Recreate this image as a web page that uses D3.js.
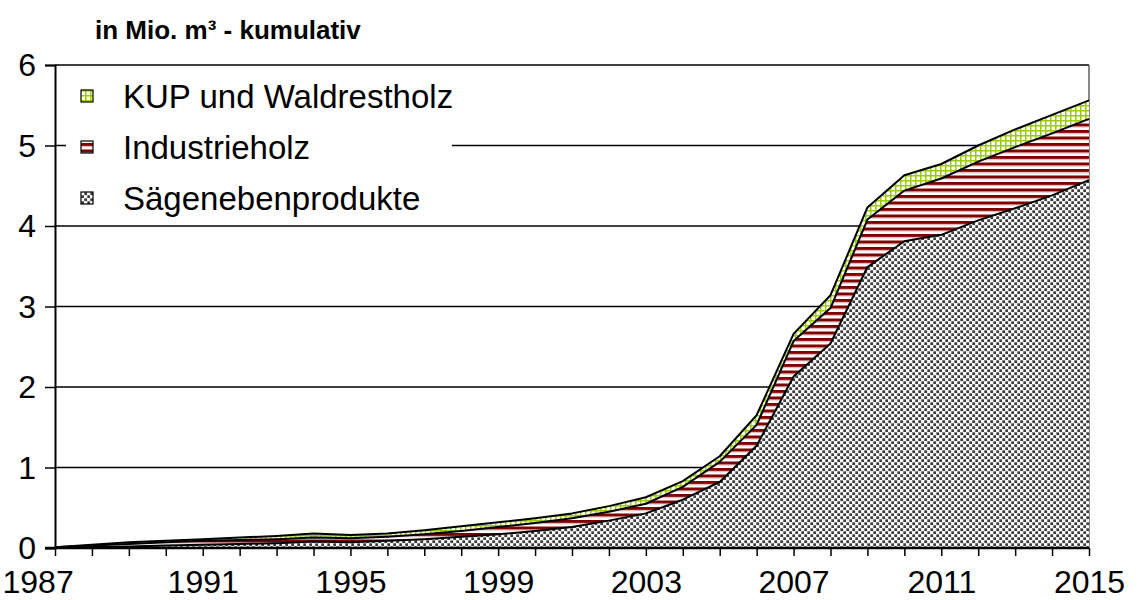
<!DOCTYPE html>
<html>
<head>
<meta charset="utf-8">
<script src="https://cdn.jsdelivr.net/npm/d3@7"></script>
<style>
  html, body { margin: 0; padding: 0; background: #fff; }
  svg { display: block; font-family: "Liberation Sans", Arial, sans-serif; }
</style>
</head>
<body>
<svg id="chart" width="1138" height="600"></svg>
<script>
// Jahre
const years = [1987,1988,1989,1990,1991,1992,1993,1994,1995,1996,1997,1998,1999,2000,
               2001,2002,2003,2004,2005,2006,2007,2008,2009,2010,2011,2012,2013,2014,2015];

// kumulierte Kapazitäten je Rohstoff (Mio. m³)
const saegenebenprodukte = [0.00,0.01,0.02,0.03,0.04,0.05,0.06,0.08,0.07,0.09,0.11,0.14,0.17,0.21,
                            0.26,0.34,0.43,0.60,0.82,1.27,2.13,2.54,3.49,3.81,3.89,4.07,4.22,4.38,4.57];
const industrieholz      = [0.01,0.02,0.03,0.04,0.05,0.05,0.05,0.05,0.05,0.05,0.06,0.07,0.09,0.10,
                            0.11,0.11,0.12,0.16,0.25,0.26,0.44,0.44,0.59,0.63,0.70,0.73,0.76,0.77,0.76];
const kupWaldrestholz    = [0.00,0.01,0.02,0.02,0.02,0.03,0.04,0.05,0.04,0.04,0.05,0.06,0.06,0.06,
                            0.06,0.07,0.08,0.07,0.07,0.12,0.09,0.16,0.15,0.19,0.18,0.20,0.22,0.23,0.23];

const seriesNames = ["Sägenebenprodukte", "Industrieholz", "KUP und Waldrestholz"];
const yTicks = [0,1,2,3,4,5,6];
const xLabelYears = [1987,1991,1995,1999,2003,2007,2011,2015];
const title = "in Mio. m³ - kumulativ";

const rows = years.map((y, i) => ({
  year: y,
  "Sägenebenprodukte": saegenebenprodukte[i],
  "Industrieholz": industrieholz[i],
  "KUP und Waldrestholz": kupWaldrestholz[i]
}));

const svg = d3.select("#chart");
const L = 55, R = 1089, T = 65, B = 548;

const x = d3.scaleLinear().domain([1987, 2015]).range([L, R]);
const y = d3.scaleLinear().domain([0, 6]).range([B, T]);

// Füllmuster
const defs = svg.append("defs");

const pDots = defs.append("pattern").attr("id", "pDots")
  .attr("patternUnits", "userSpaceOnUse").attr("width", 6).attr("height", 6);
pDots.append("rect").attr("width", 6).attr("height", 6).attr("fill", "#fff");
pDots.append("rect").attr("x", 0.3).attr("y", 0.3).attr("width", 2.8).attr("height", 2.8).attr("fill", "#3c3c3c");
pDots.append("rect").attr("x", 3.3).attr("y", 3.3).attr("width", 2.8).attr("height", 2.8).attr("fill", "#3c3c3c");

const pStripes = defs.append("pattern").attr("id", "pStripes")
  .attr("patternUnits", "userSpaceOnUse").attr("width", 6).attr("height", 6.5);
pStripes.append("rect").attr("width", 6).attr("height", 6.5).attr("fill", "#fff");
pStripes.append("rect").attr("y", 0).attr("width", 6).attr("height", 3).attr("fill", "#800000");
pStripes.append("rect").attr("y", 3).attr("width", 6).attr("height", 1).attr("fill", "#d7a6a6");

const pGrid = defs.append("pattern").attr("id", "pGrid")
  .attr("patternUnits", "userSpaceOnUse").attr("width", 5).attr("height", 5);
pGrid.append("rect").attr("width", 5).attr("height", 5).attr("fill", "#fff");
pGrid.append("rect").attr("x", 0).attr("y", 0).attr("width", 1.5).attr("height", 5).attr("fill", "#99cc00");
pGrid.append("rect").attr("x", 0).attr("y", 0).attr("width", 5).attr("height", 1.5).attr("fill", "#99cc00");

const fills = {
  "Sägenebenprodukte": "url(#pDots)",
  "Industrieholz": "url(#pStripes)",
  "KUP und Waldrestholz": "url(#pGrid)"
};

// Gitterlinien
svg.append("g").selectAll("line").data(yTicks.filter(d => d > 0)).join("line")
  .attr("x1", L).attr("x2", R)
  .attr("y1", d => y(d)).attr("y2", d => y(d))
  .attr("stroke", "#000").attr("stroke-width", 1.4);

// rechter Rand des Diagrammbereichs
svg.append("line").attr("x1", R).attr("x2", R).attr("y1", T).attr("y2", B)
  .attr("stroke", "#555").attr("stroke-width", 1.4);

// Legendenhintergrund
svg.append("rect").attr("x", 66).attr("y", 72).attr("width", 386).attr("height", 146).attr("fill", "#fff");

// gestapelte Flächen
const stack = d3.stack().keys(seriesNames);
const layers = stack(rows);

const area = d3.area()
  .x(d => x(d.data.year))
  .y0(d => y(d[0]))
  .y1(d => y(d[1]));

const topLine = d3.line()
  .x(d => x(d.data.year))
  .y(d => y(d[1]));

svg.append("g").selectAll("path").data(layers).join("path")
  .attr("d", area)
  .attr("fill", d => fills[d.key]);

svg.append("g").selectAll("path").data(layers).join("path")
  .attr("d", topLine)
  .attr("fill", "none")
  .attr("stroke", "#000")
  .attr("stroke-width", 2)
  .attr("stroke-linejoin", "round");

// Achsen
const yAxis = d3.axisLeft(y).tickValues(yTicks).tickSize(10).tickFormat(d3.format("d"));
const gy = svg.append("g").attr("transform", `translate(${L},0)`).call(yAxis);
gy.select(".domain").attr("stroke", "#000").attr("stroke-width", 2);
gy.selectAll(".tick line").attr("stroke", "#000").attr("stroke-width", 1.5);
gy.selectAll(".tick text").attr("font-size", 32).attr("fill", "#000").attr("x", -19).attr("dy", "0.34em")
  .attr("font-family", "Liberation Sans, Arial, sans-serif");

const xAxis = d3.axisBottom(x).tickValues(years).tickSize(8)
  .tickFormat(d => xLabelYears.includes(d) ? String(d) : "");
const gx = svg.append("g").attr("transform", `translate(0,${B})`).call(xAxis);
gx.select(".domain").attr("d", `M${L - 10},0H${R}`).attr("stroke", "#000").attr("stroke-width", 2.5);
gx.selectAll(".tick line").attr("stroke", "#000").attr("stroke-width", 1.5);
gx.selectAll(".tick text").attr("font-size", 32).attr("fill", "#000").attr("y", 22)
  .attr("font-family", "Liberation Sans, Arial, sans-serif");
// erste Jahresbeschriftung linksbündig an den Rand gerückt
gx.selectAll(".tick text").filter(d => d === years[0])
  .attr("text-anchor", "start").attr("x", 2 - L);

// Titel
svg.append("text").attr("x", 95).attr("y", 39)
  .attr("font-size", 26).attr("font-weight", "bold").attr("fill", "#000")
  .text(title);

// Legende (oberste Reihe zuerst)
const legendItems = seriesNames.slice().reverse();
const lg = svg.append("g");
legendItems.forEach((name, i) => {
  const cy = 96 + i * 51;
  lg.append("rect").attr("x", 81).attr("y", cy - 6).attr("width", 12).attr("height", 12)
    .attr("fill", fills[name]).attr("stroke", "#000").attr("stroke-width", 1.2);
  lg.append("text").attr("x", 123).attr("y", cy + 12)
    .attr("font-size", 33).attr("fill", "#000").text(name);
});
</script>
</body>
</html>
